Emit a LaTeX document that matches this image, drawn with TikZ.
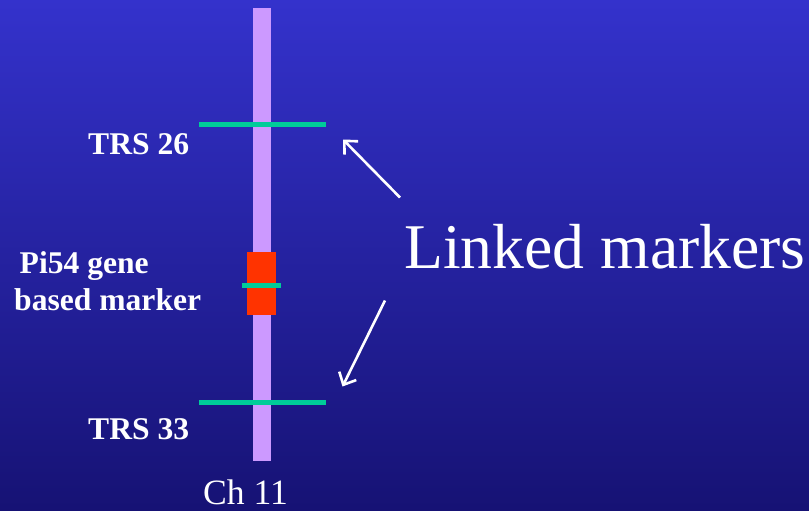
\documentclass[tikz,border=0pt]{standalone}
\usepackage{fontspec}
\setmainfont{Liberation Serif}
\usetikzlibrary{arrows.meta}
\definecolor{bgtop}{RGB}{52,50,204}
\definecolor{bgbot}{RGB}{22,18,116}
\definecolor{chrom}{RGB}{204,153,255}
\definecolor{mark}{RGB}{0,204,153}
\definecolor{gene}{RGB}{255,51,0}
\tikzset{
  lbl/.style={text=white, inner sep=0pt, anchor=base west, font=\bfseries\fontsize{31.6}{37}\selectfont},
  marker/.style={draw=mark, line width=5pt},
  linkarrow/.style={draw=white, line width=2.6pt, -{Straight Barb[length=10pt,width=19pt,line width=2.6pt]}}
}
\begin{document}
\begin{tikzpicture}[x=1pt,y=-1pt]
\shade[top color=bgtop, bottom color=bgbot] (0,0) rectangle (809,511);
\useasboundingbox (0,0) rectangle (809,511);
% chromosome
\fill[chrom] (253,8) rectangle (271,461);
\fill[gene] (247,252) rectangle (276,315);
\draw[marker] (199,124.8) -- (326,124.8);
\draw[marker] (199,402.5) -- (326,402.5);
\draw[marker] (242,285.3) -- (281,285.3);
% labels
\node[lbl] (trs26) at (88,154.3) {TRS 26};
\node[lbl] (trs33) at (88,439.3) {TRS 33};
\node[lbl] (pi1) at (19.5,273.3) {Pi54 gene};
\node[lbl] (pi2) at (14,310.7) {based marker};
\node[text=white, inner sep=0pt, anchor=base west, font=\fontsize{35.6}{40}\selectfont] (ch) at (203,504.5) {Ch 11};
\node[text=white, inner sep=0pt, anchor=base west, font=\fontsize{63.7}{70}\selectfont] (linked) at (404,268.3) {Linked markers};
% arrows
\coordinate (a1s) at (400,197.5);
\coordinate (a1e) at (343,139.5);
\coordinate (a2s) at (385,300.5);
\coordinate (a2e) at (342.5,386.5);
\draw[linkarrow] (a1s) -- (a1e);
\draw[linkarrow] (a2s) -- (a2e);
\end{tikzpicture}
\end{document}
